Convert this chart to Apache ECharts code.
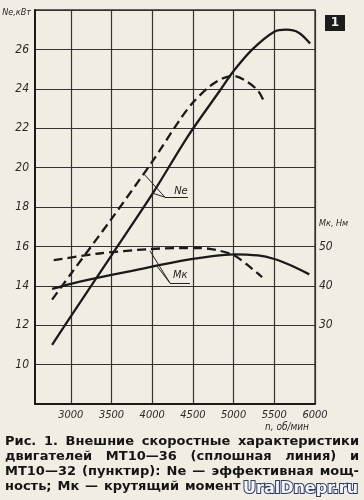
<!DOCTYPE html>
<html><head><meta charset="utf-8">
<script src="https://cdn.jsdelivr.net/npm/echarts@6/dist/echarts.min.js"></script>
<style>html,body{margin:0;padding:0;background:#f1ede2;} #c{width:364px;height:500px;}</style>
</head><body><div id="c"></div>
<script>
// ---- data ----
const rpmTicks = [3000, 3500, 4000, 4500, 5000, 5500, 6000];
const mkTicks = [30, 40, 50];

const ne36Rpm = [2770, 3000, 3500, 4000, 4440, 4830, 5000, 5230, 5500, 5650, 5800, 5940];
const ne36    = [11.0, 12.45, 15.55, 18.65, 21.6, 23.9, 24.9, 26.0, 26.9, 27.0, 26.85, 26.3];
const ne32Rpm = [2770, 3000, 3500, 4000, 4335, 4500, 4700, 4850, 5000, 5150, 5300, 5380];
const ne32    = [13.3, 14.6, 17.4, 20.3, 22.4, 23.3, 24.1, 24.5, 24.65, 24.4, 23.9, 23.3];
const mk36Rpm = [2770, 3000, 3250, 3750, 4350, 4700, 5000, 5300, 5500, 5700, 5930];
const mk36    = [39.2, 40.5, 41.7, 43.8, 46.3, 47.4, 48.0, 47.7, 46.8, 45.2, 42.9];
const mk32Rpm = [2790, 3350, 3950, 4350, 4580, 4780, 5000, 5170, 5350];
const mk32    = [46.5, 48.2, 49.3, 49.6, 49.6, 49.1, 47.8, 45.3, 42.2];

const captionLines = [
  'Рис. 1. Внешние скоростные характеристики',
  'двигателей МТ10—36 (сплошная линия) и',
  'МТ10—32 (пунктир): Ne — эффективная мощ-',
  'ность; Мк — крутящий момент'
];
const neUnit = 'Ne,кВт';
const mkUnit = 'Мк, Нм';
const rpmUnit = 'n, об/мин';

// ---- helpers ----
const zip = (xs, ys) => xs.map((x, i) => [x, ys[i]]);
const ink = '#1a1a1a';
const narrow = "'Liberation Sans Narrow','DejaVu Sans Condensed','DejaVu Sans',sans-serif";
const capFam = "'DejaVu Sans',sans-serif";

// caption layout (justified)
const ctx = document.createElement('canvas').getContext('2d');
let fs = 13;
ctx.font = 'bold ' + fs + 'px ' + capFam;
const w0 = ctx.measureText(captionLines[0]).width;
if (w0 > 348) fs = fs * 348 / w0;
ctx.font = 'bold ' + fs + 'px ' + capFam;
const capLeft = 5, capRight = 359;
const capY = [442, 457, 472, 487];
const graphics = [];
captionLines.forEach((line, li) => {
  const words = line.split(' ');
  const ws = words.map(w => ctx.measureText(w).width);
  const total = ws.reduce((a, b) => a + b, 0);
  const justify = li < captionLines.length - 1;
  const gap = justify ? (capRight - capLeft - total) / (words.length - 1) : ctx.measureText(' ').width * 1.3;
  let x = capLeft;
  words.forEach((w, i) => {
    graphics.push({type: 'text', z: 10, style: {text: w, x: x, y: capY[li], font: 'bold ' + fs + 'px ' + capFam, fill: '#151515', verticalAlign: 'middle'}});
    x += ws[i] + gap;
  });
});
graphics.push({type: 'text', z: 20, style: {text: 'UralDnepr.ru', x: 243, y: 489, font: 'bold 16px ' + capFam, fill: '#f6f6f6', stroke: '#2a3a6a', lineWidth: 2, verticalAlign: 'middle'}});
graphics.push({type: 'rect', z: 10, shape: {x: 325, y: 15, width: 20, height: 16}, style: {fill: '#1c1c1c'}});
graphics.push({type: 'text', z: 11, style: {text: '1', x: 335, y: 23, font: 'bold 12px ' + capFam, fill: '#f0f0f0', align: 'center', verticalAlign: 'middle'}});
graphics.push({type: 'text', z: 10, style: {text: rpmUnit, x: 287, y: 427, font: 'italic 10px ' + narrow, fill: '#2a2a2a', align: 'center', verticalAlign: 'middle'}});

const leader = {color: '#222', width: 1, type: 'solid'};

const option = {
  backgroundColor: '#f1ede2',
  animation: false,
  grid: {left: 35, right: 49, top: 10, bottom: 96, show: true, borderColor: '#2e2e2e', borderWidth: 1.3, outerBoundsMode: 'none', containLabel: false},
  xAxis: {
    type: 'value', min: 2560, max: 6000,
    axisLine: {show: true, lineStyle: {color: ink, width: 2}},
    axisTick: {show: false, customValues: rpmTicks},
    axisLabel: {customValues: rpmTicks, formatter: v => String(v), margin: 6, fontStyle: 'italic', fontSize: 11, fontFamily: narrow, color: '#2a2a2a'},
    splitLine: {show: true, lineStyle: {color: '#333', width: 1.2}}
  },
  yAxis: [{
    type: 'value', min: 8, max: 28, interval: 2,
    axisLine: {show: true, lineStyle: {color: ink, width: 2}},
    axisTick: {show: false},
    axisLabel: {margin: 6, fontStyle: 'italic', fontSize: 12, fontFamily: narrow, color: '#2a2a2a',
      formatter: v => v === 8 ? '' : (v === 28 ? '{u|' + neUnit + '}' : String(v)),
      rich: {u: {fontSize: 9, fontStyle: 'italic', fontFamily: narrow, color: '#2a2a2a', padding: [6, -2, 0, 0]}}},
    splitLine: {show: true, lineStyle: {color: '#333', width: 1.2}}
  }, {
    type: 'value', min: 10, max: 110, interval: 10, position: 'right',
    axisLine: {show: false}, axisTick: {show: false}, splitLine: {show: false},
    axisLabel: {customValues: mkTicks.concat([55.7]), margin: 4, fontStyle: 'italic', fontSize: 12, fontFamily: narrow, color: '#2a2a2a',
      formatter: v => v > 52 ? '{u|' + mkUnit + '}' : (mkTicks.indexOf(v) >= 0 ? String(v) : ''),
      rich: {u: {fontSize: 9, fontStyle: 'italic', fontFamily: narrow, color: '#2a2a2a'}}}
  }],
  graphic: graphics,
  series: [
    {type: 'line', name: 'Ne МТ10-36', yAxisIndex: 0, data: zip(ne36Rpm, ne36), showSymbol: false, smooth: 0.3,
      lineStyle: {color: ink, width: 2.3},
      markLine: {silent: true, symbol: ['none', 'none'], label: {show: false}, lineStyle: leader,
        data: [
          [{coord: [4156, 18.5]}, {coord: [3886, 19.73]}],
          [{coord: [4156, 18.5]}, {coord: [4005, 18.7]}],
          [{coord: [4156, 18.5]}, {coord: [4440, 18.5]}]
        ]},
      markPoint: {silent: true, symbol: 'rect', symbolSize: 1, itemStyle: {color: 'rgba(0,0,0,0)'},
        label: {show: true, position: 'inside', formatter: 'Ne', fontStyle: 'italic', fontSize: 11, fontFamily: narrow, color: '#222'},
        data: [{coord: [4353, 18.8]}]}
    },
    {type: 'line', name: 'Ne МТ10-32', yAxisIndex: 0, data: zip(ne32Rpm, ne32), showSymbol: false, smooth: 0.3,
      lineStyle: {color: ink, width: 2.3, type: [9, 5]}},
    {type: 'line', name: 'Мк МТ10-36', yAxisIndex: 1, data: zip(mk36Rpm, mk36), showSymbol: false, smooth: 0.3,
      lineStyle: {color: ink, width: 2.3},
      markLine: {silent: true, symbol: ['none', 'none'], label: {show: false}, lineStyle: leader,
        data: [
          [{coord: [4218, 40.7]}, {coord: [3972, 48.9]}],
          [{coord: [4218, 40.7]}, {coord: [4058, 45.0]}],
          [{coord: [4218, 40.7]}, {coord: [4464, 40.7]}]
        ]},
      markPoint: {silent: true, symbol: 'rect', symbolSize: 1, itemStyle: {color: 'rgba(0,0,0,0)'},
        label: {show: true, position: 'inside', formatter: 'Мк', fontStyle: 'italic', fontSize: 11, fontFamily: narrow, color: '#222'},
        data: [{coord: [4345, 42.6]}]}
    },
    {type: 'line', name: 'Мк МТ10-32', yAxisIndex: 1, data: zip(mk32Rpm, mk32), showSymbol: false, smooth: 0.3,
      lineStyle: {color: ink, width: 2.3, type: [9, 5]}}
  ]
};
const chart = echarts.init(document.getElementById('c'), null, {renderer: 'canvas'});
chart.setOption(option);
</script></body></html>
